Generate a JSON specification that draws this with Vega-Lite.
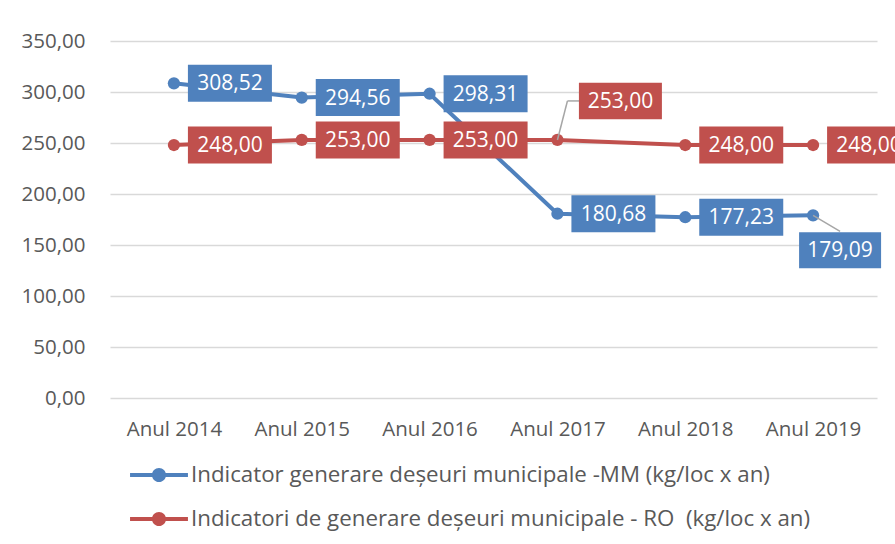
{
  "$schema": "https://vega.github.io/schema/vega-lite/v6.json",
  "width": 767,
  "height": 357,
  "autosize": {"type": "none"},
  "padding": {"left": 110, "top": 41, "right": 18, "bottom": 146},
  "background": "white",
  "config": {
    "locale": {"number": {"decimal": ",", "thousands": ".", "grouping": [3], "currency": ["", ""]}},
    "view": {"stroke": null},
    "font": "Open Sans"
  },
  "data": {
    "values": [
      {"year": "Anul 2014", "series": "Indicator generare deșeuri municipale -MM (kg/loc x an)", "value": 308.52},
      {"year": "Anul 2015", "series": "Indicator generare deșeuri municipale -MM (kg/loc x an)", "value": 294.56},
      {"year": "Anul 2016", "series": "Indicator generare deșeuri municipale -MM (kg/loc x an)", "value": 298.31},
      {"year": "Anul 2017", "series": "Indicator generare deșeuri municipale -MM (kg/loc x an)", "value": 180.68},
      {"year": "Anul 2018", "series": "Indicator generare deșeuri municipale -MM (kg/loc x an)", "value": 177.23},
      {"year": "Anul 2019", "series": "Indicator generare deșeuri municipale -MM (kg/loc x an)", "value": 179.09},
      {"year": "Anul 2014", "series": "Indicatori de generare deșeuri municipale - RO \u00a0(kg/loc x an)", "value": 248.0},
      {"year": "Anul 2015", "series": "Indicatori de generare deșeuri municipale - RO \u00a0(kg/loc x an)", "value": 253.0},
      {"year": "Anul 2016", "series": "Indicatori de generare deșeuri municipale - RO \u00a0(kg/loc x an)", "value": 253.0},
      {"year": "Anul 2017", "series": "Indicatori de generare deșeuri municipale - RO \u00a0(kg/loc x an)", "value": 253.0},
      {"year": "Anul 2018", "series": "Indicatori de generare deșeuri municipale - RO \u00a0(kg/loc x an)", "value": 248.0},
      {"year": "Anul 2019", "series": "Indicatori de generare deșeuri municipale - RO \u00a0(kg/loc x an)", "value": 248.0}
    ]
  },
  "encoding": {
    "x": {
      "field": "year", "type": "ordinal", "sort": null,
      "scale": {"type": "point", "padding": 0.5},
      "axis": {"title": null, "labelAngle": 0, "domain": false, "ticks": false, "labelPadding": 21, "labelFontSize": 20.5, "labelColor": "#595959", "grid": false}
    },
    "y": {
      "field": "value", "type": "quantitative",
      "scale": {"domain": [0, 350], "nice": false, "zero": true},
      "axis": {"title": null, "values": [0, 50, 100, 150, 200, 250, 300, 350], "format": ".2f", "domain": false, "ticks": false, "labelPadding": 25, "labelFontSize": 20.5, "labelColor": "#595959", "gridColor": "#d9d9d9", "gridWidth": 1.5}
    },
    "color": {
      "field": "series", "type": "nominal",
      "scale": {
        "domain": ["Indicator generare deșeuri municipale -MM (kg/loc x an)", "Indicatori de generare deșeuri municipale - RO \u00a0(kg/loc x an)"],
        "range": ["#4f81bd", "#c0504d"]
      },
      "legend": {
        "title": null,
        "orient": "none",
        "direction": "vertical",
        "legendX": 34,
        "legendY": 419,
        "symbolType": "M-1.93,-0.14H1.93V0.14H-1.93Z M0.47,0A0.47,0.47,0,1,1,-0.47,0A0.47,0.47,0,1,1,0.47,0Z",
        "symbolSize": 900,
        "symbolStrokeWidth": 0,
        "labelOffset": 17,
        "rowPadding": 17,
        "labelFontSize": 22.3,
        "labelColor": "#595959",
        "labelLimit": 0,
        "encode": {
          "symbols": {
            "update": {
              "fill": {"scale": "color", "field": "value"},
              "stroke": {"value": "transparent"},
              "opacity": {"value": 1}
            }
          }
        }
      }
    }
  },
  "layer": [
    {"mark": {"type": "line", "strokeWidth": 4}},
    {"mark": {"type": "point", "filled": true, "size": 150, "opacity": 1}},
    {
      "transform": [{"filter": "datum.year == 'Anul 2019' && indexof(datum.series, '-MM') >= 0"}],
      "mark": {"type": "rule", "strokeWidth": 1.5, "x2Offset": 27, "y2Offset": 16},
      "encoding": {"x2": {"field": "year"}, "y2": {"field": "value"}, "color": {"value": "#a6a6a6"}}
    },
    {
      "transform": [{"filter": "datum.year == 'Anul 2017' && indexof(datum.series, 'RO') >= 0"}],
      "mark": {"type": "rule", "strokeWidth": 1.5, "x2Offset": 10, "y2Offset": -39},
      "encoding": {"x2": {"field": "year"}, "y2": {"field": "value"}, "color": {"value": "#a6a6a6"}}
    },
    {
      "transform": [{"filter": "datum.year == 'Anul 2017' && indexof(datum.series, 'RO') >= 0"}],
      "mark": {"type": "rule", "strokeWidth": 1.5, "xOffset": 10, "yOffset": -39, "x2Offset": 22, "y2Offset": -39},
      "encoding": {"x2": {"field": "year"}, "y2": {"field": "value"}, "color": {"value": "#a6a6a6"}}
    },
    {
      "transform": [{"filter": "!((datum.year == 'Anul 2019' && indexof(datum.series, '-MM') >= 0) || (datum.year == 'Anul 2017' && indexof(datum.series, 'RO') >= 0))"}],
      "mark": {"type": "point", "shape": "M-1,-0.44H1V0.44H-1Z", "size": 7056, "filled": true, "opacity": 1, "xOffset": 56}
    },
    {
      "transform": [{"filter": "!((datum.year == 'Anul 2019' && indexof(datum.series, '-MM') >= 0) || (datum.year == 'Anul 2017' && indexof(datum.series, 'RO') >= 0))"}],
      "mark": {"type": "text", "xOffset": 56, "yOffset": 1, "fontSize": 21, "align": "center", "baseline": "middle"},
      "encoding": {"text": {"field": "value", "type": "quantitative", "format": ".2f"}, "color": {"value": "white"}}
    },
    {
      "transform": [{"filter": "datum.year == 'Anul 2019' && indexof(datum.series, '-MM') >= 0"}],
      "mark": {"type": "point", "shape": "M-1,-0.44H1V0.44H-1Z", "size": 6724, "filled": true, "opacity": 1, "xOffset": 27, "yOffset": 35}
    },
    {
      "transform": [{"filter": "datum.year == 'Anul 2019' && indexof(datum.series, '-MM') >= 0"}],
      "mark": {"type": "text", "xOffset": 27, "yOffset": 36, "fontSize": 21, "align": "center", "baseline": "middle"},
      "encoding": {"text": {"field": "value", "type": "quantitative", "format": ".2f"}, "color": {"value": "white"}}
    },
    {
      "transform": [{"filter": "datum.year == 'Anul 2017' && indexof(datum.series, 'RO') >= 0"}],
      "mark": {"type": "point", "shape": "M-1,-0.44H1V0.44H-1Z", "size": 6889, "filled": true, "opacity": 1, "xOffset": 63, "yOffset": -39}
    },
    {
      "transform": [{"filter": "datum.year == 'Anul 2017' && indexof(datum.series, 'RO') >= 0"}],
      "mark": {"type": "text", "xOffset": 63, "yOffset": -38, "fontSize": 21, "align": "center", "baseline": "middle"},
      "encoding": {"text": {"field": "value", "type": "quantitative", "format": ".2f"}, "color": {"value": "white"}}
    }
  ]
}
